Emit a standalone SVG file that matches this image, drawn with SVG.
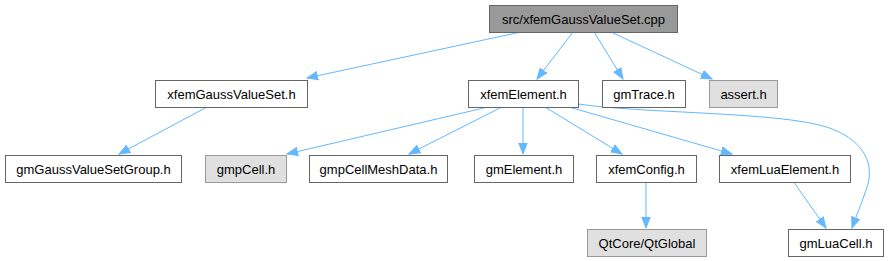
<svg xmlns="http://www.w3.org/2000/svg" width="888" height="261" viewBox="0 0 888 261">
<style>
.n rect{fill:#fff;stroke:#666;stroke-width:1}
.g rect{fill:#e0e0e0;stroke:#999}
.r rect{fill:#999;stroke:#666}
text{font-family:"Liberation Sans",Arial,sans-serif;font-size:13px;fill:#000;text-anchor:middle}
.e path{fill:none;stroke:#63b8ff;stroke-width:1}
</style>
<defs>
<marker id="a" markerUnits="userSpaceOnUse" markerWidth="12" markerHeight="10" refX="11" refY="5" orient="auto">
<path d="M0,0.8 L11,5 L0,9.2 z" fill="#63b8ff" stroke="#63b8ff"/>
</marker>
</defs>
<g class="e">
<path d="M521,32 L307,78" marker-end="url(#a)"/>
<path d="M573,32 L537,79" marker-end="url(#a)"/>
<path d="M594,32 L623,79" marker-end="url(#a)"/>
<path d="M611,32 L712,79" marker-end="url(#a)"/>
<path d="M207,107 L119,154" marker-end="url(#a)"/>
<path d="M488,107 L287,154" marker-end="url(#a)"/>
<path d="M502,107 L409,154" marker-end="url(#a)"/>
<path d="M523,107 L523,154" marker-end="url(#a)"/>
<path d="M545,107 L622,154" marker-end="url(#a)"/>
<path d="M569,107 L732,154" marker-end="url(#a)"/>
<path d="M578,104 C640,113 760,112 815,124 C858,133 878,160 866,190 C862,202 857,214 852,228" marker-end="url(#a)"/>
<path d="M793,181 L826,228" marker-end="url(#a)"/>
<path d="M646,181 L646,228" marker-end="url(#a)"/>
</g>
<g id="root" class="r"><rect x="489.5" y="5.5" width="188" height="27"/><text x="583.5" y="23.5">src/xfemGaussValueSet.cpp</text></g>
<g id="xfemGaussValueSet" class="n"><rect x="155.5" y="80.5" width="152" height="27"/><text x="231.5" y="98.5">xfemGaussValueSet.h</text></g>
<g id="xfemElement" class="n"><rect x="468.5" y="80.5" width="110" height="27"/><text x="523.5" y="98.5">xfemElement.h</text></g>
<g id="gmTrace" class="n"><rect x="602.5" y="80.5" width="83" height="27"/><text x="644" y="98.5">gmTrace.h</text></g>
<g id="assert" class="g"><rect x="709.5" y="80.5" width="68" height="27"/><text x="743.5" y="98.5">assert.h</text></g>
<g id="gmGaussValueSetGroup" class="n"><rect x="5.5" y="155.5" width="176" height="27"/><text x="93.5" y="173.5">gmGaussValueSetGroup.h</text></g>
<g id="gmpCell" class="g"><rect x="205.5" y="155.5" width="81" height="27"/><text x="246" y="173.5">gmpCell.h</text></g>
<g id="gmpCellMeshData" class="n"><rect x="309.5" y="155.5" width="138" height="27"/><text x="378.5" y="173.5">gmpCellMeshData.h</text></g>
<g id="gmElement" class="n"><rect x="474.5" y="155.5" width="99" height="27"/><text x="524" y="173.5">gmElement.h</text></g>
<g id="xfemConfig" class="n"><rect x="596.5" y="155.5" width="100" height="27"/><text x="646.5" y="173.5">xfemConfig.h</text></g>
<g id="xfemLuaElement" class="n"><rect x="719.5" y="155.5" width="131" height="27"/><text x="785" y="173.5">xfemLuaElement.h</text></g>
<g id="QtGlobal" class="g"><rect x="587.5" y="229.5" width="119" height="27"/><text x="647" y="247.5">QtCore/QtGlobal</text></g>
<g id="gmLuaCell" class="n"><rect x="788.5" y="229.5" width="95" height="27"/><text x="836" y="247.5">gmLuaCell.h</text></g>
</svg>
